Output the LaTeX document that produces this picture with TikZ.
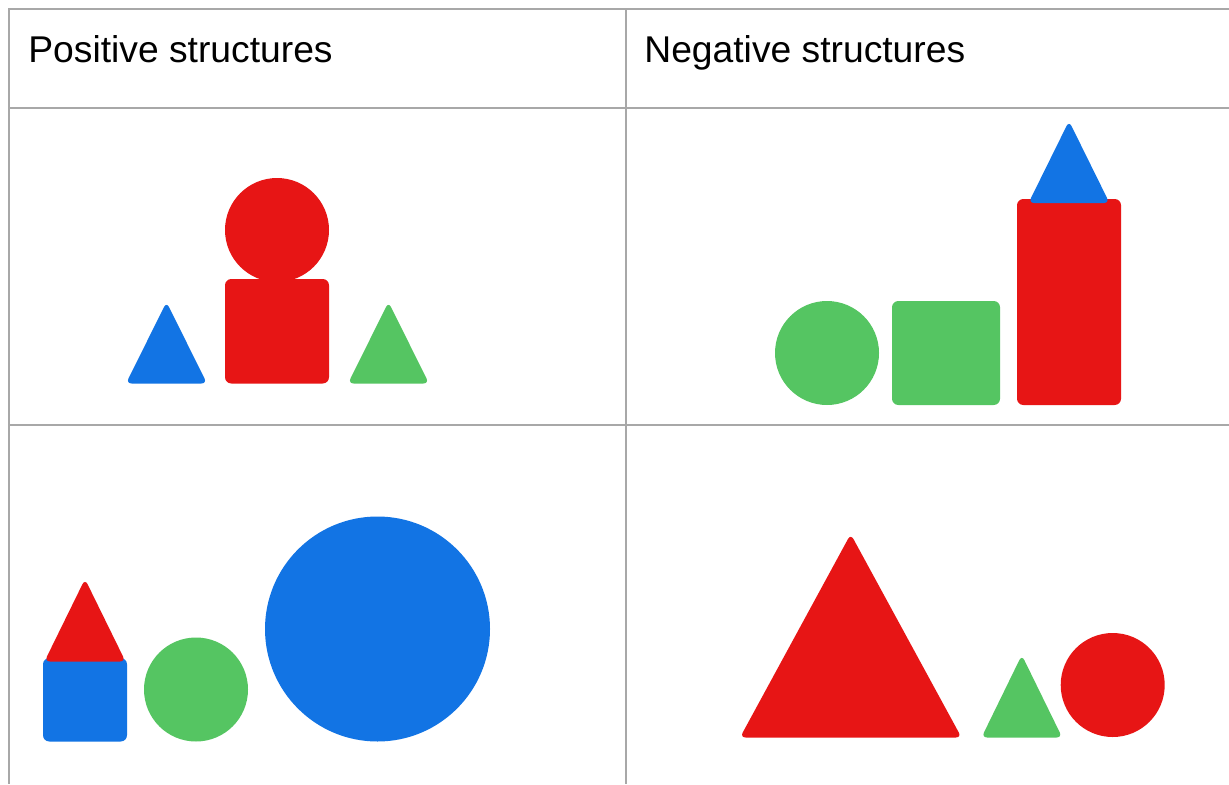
\documentclass[tikz,border=0pt]{standalone}
\usepackage{fontspec}
\setmainfont{Liberation Sans}
\definecolor{shred}{HTML}{E71515}
\definecolor{shblue}{HTML}{1274E4}
\definecolor{shgreen}{HTML}{55C562}
\definecolor{gridgray}{HTML}{A8A8A8}
\begin{document}
\begin{tikzpicture}[x=0.02cm,y=-0.02cm,
  gridline/.style={draw=gridgray,line width=1.1pt},
  header/.style={anchor=base west,inner sep=0pt,font=\fontsize{21.2}{25}\selectfont},
  tri/.style={rounded corners=3.2pt},
  box/.style={rounded corners=3.6pt}]
\useasboundingbox[fill=white] (0,0) rectangle (1229,784);

% table rules
\draw[gridline] (1229,9) -- (9,9) -- (9,784);
\draw[gridline] (9,108) -- (1229,108);
\draw[gridline] (9,425) -- (1229,425);
\draw[gridline] (626,9) -- (626,784);

% column headers
\node[header] (pos) at (28,62.5) {Positive structures};
\node[header] (neg) at (644,62.5) {Negative structures};

% positive structure 1: triangle, head on block, triangle
\fill[shblue,tri] (126,383.5) -- (166.5,302) -- (207,383.5) -- cycle;
\fill[shred] (277,230) circle[radius=52];
\fill[shred,box] (225,279) rectangle (329,383.5);
\fill[shgreen,tri] (348,383.5) -- (388.5,302) -- (429,383.5) -- cycle;

% negative structure 1: circle, square, tower with roof
\fill[shgreen] (827,353) circle[radius=52];
\fill[shgreen,box] (892,301) rectangle (1000,405);
\fill[shred,box] (1017,199) rectangle (1121,405);
\fill[shblue,tri] (1028.5,203) -- (1069,121) -- (1109.5,203) -- cycle;

% positive structure 2: house, circle, big circle
\fill[shblue,box] (43,658) rectangle (127,741.5);
\fill[shred,tri] (44.5,661.5) -- (85,579) -- (125.5,661.5) -- cycle;
\fill[shgreen] (196,689.5) circle[radius=52];
\fill[shblue] (377.5,629) circle[radius=112.5];

% negative structure 2: big triangle, small triangle, circle
\fill[shred,tri] (740,737.5) -- (850.7,534) -- (961.5,737.5) -- cycle;
\fill[shgreen,tri] (981.5,737.5) -- (1021.8,655) -- (1062.2,737.5) -- cycle;
\fill[shred] (1112.7,685) circle[radius=52];
\end{tikzpicture}
\end{document}
